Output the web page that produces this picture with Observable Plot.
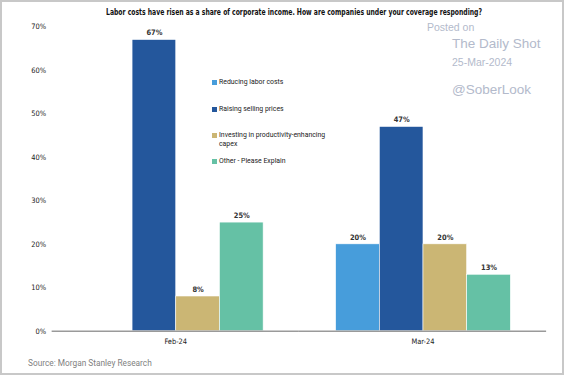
<!DOCTYPE html>
<html><head><meta charset="utf-8">
<script src="https://cdn.jsdelivr.net/npm/d3@7"></script>
<script src="https://cdn.jsdelivr.net/npm/@observablehq/plot@0.6"></script>
<style>
html,body{margin:0;padding:0;background:#fff;}
#wrap{position:relative;width:564px;height:375px;box-sizing:border-box;border:2px solid #c8c8c8;overflow:hidden;}
#title{position:absolute;left:104px;top:1px;white-space:nowrap;font:bold 9.5px "Liberation Sans Narrow","DejaVu Sans Condensed",Roboto,sans-serif;line-height:18px;color:#111;transform-origin:0 50%;}
#chart{position:absolute;left:-2px;top:18px;}
#source{position:absolute;left:26px;top:353px;font:8.3px Roboto,sans-serif;color:#7f7f7f;line-height:16px;}
#legend{position:absolute;left:210px;top:70px;font:6.9px Roboto,sans-serif;color:#222;}
#legend .it{position:absolute;white-space:nowrap;line-height:8.5px;}
#legend .sw{position:absolute;left:0;top:2px;width:5px;height:5px;}
#legend .tx{position:absolute;left:7px;top:0;}
.wm{position:absolute;color:#b3bacb;font-family:"Liberation Sans",Arial,sans-serif;white-space:nowrap;}
</style></head>
<body>
<div id="wrap">
<div id="title"></div>
<div id="chart"></div>
<div id="legend"></div>
<div class="wm" style="left:425px;top:19px;font-size:10.5px;">Posted on</div>
<div class="wm" style="left:450px;top:34px;font-size:13.5px;">The Daily Shot</div>
<div class="wm" style="left:450px;top:54px;font-size:10.5px;">25-Mar-2024</div>
<div class="wm" style="left:450px;top:80px;font-size:13.5px;">@SoberLook</div>
<div id="source"></div>
</div>
<script>
const titleText = "Labor costs have risen as a share of corporate income. How are companies under your coverage responding?";
const sourceText = "Source: Morgan Stanley Research";
const periods = ["Feb-24", "Mar-24"];
const series = ["Reducing labor costs", "Raising selling prices", "Investing in productivity-enhancing capex", "Other - Please Explain"];
const legendLines = ["Reducing labor costs", "Raising selling prices", "Investing in productivity-enhancing\ncapex", "Other - Please Explain"];
const colors = ["#479ddb", "#24579c", "#cbb674", "#65c1a5"];
const febValues = [null, 67, 8, 25];
const marValues = [20, 47, 20, 13];
const yTicks = [0, 10, 20, 30, 40, 50, 60, 70];

const titleEl = document.getElementById("title");
titleEl.textContent = titleText;
const tw = titleEl.getBoundingClientRect().width;
if (tw > 0) titleEl.style.transform = "scaleX(" + (376 / tw) + ")";
document.getElementById("source").textContent = sourceText;

const data = [];
[febValues, marValues].forEach((vals, pi) => {
  vals.forEach((v, si) => {
    if (v != null) data.push({period: periods[pi], series: series[si], value: v});
  });
});

const font = '"Liberation Sans Narrow","DejaVu Sans Condensed",Roboto,sans-serif';
const chart = Plot.plot({
  width: 566,
  height: 337,
  marginLeft: 52,
  marginRight: 16,
  marginTop: 6.5,
  marginBottom: 24,
  style: {fontFamily: font, fontSize: "7.5px", color: "#222", background: "transparent"},
  fx: {domain: periods, padding: 0, axis: "bottom", tickSize: 0, tickPadding: 7, label: null},
  x: {domain: series, axis: null, paddingInner: 0, paddingOuter: 0.767},
  y: {domain: [0, 70], ticks: yTicks, tickFormat: d => d + "%", tickSize: 0, tickPadding: 6, label: null},
  color: {domain: series, range: colors},
  marks: [
    Plot.barY(data, {fx: "period", x: "series", y: "value", fill: "series", stroke: "white", strokeWidth: 0.6}),
    Plot.ruleY([0], {stroke: "#9a9a9a", strokeWidth: 1.5}),
    Plot.text(data, {fx: "period", x: "series", y: "value", text: d => d.value + "%", dy: -7, fontWeight: "bold", fill: "#333", fontSize: 7.5})
  ]
});
document.getElementById("chart").appendChild(chart);

const lg = document.getElementById("legend");
const tops = [6, 33, 59, 85];
legendLines.forEach((t, i) => {
  const it = document.createElement("div");
  it.className = "it";
  it.style.top = tops[i] + "px";
  const sw = document.createElement("div");
  sw.className = "sw"; sw.style.background = colors[i];
  const tx = document.createElement("div");
  tx.className = "tx"; tx.style.whiteSpace = "pre"; tx.textContent = t;
  it.appendChild(sw); it.appendChild(tx); lg.appendChild(it);
});
</script>
</body></html>
